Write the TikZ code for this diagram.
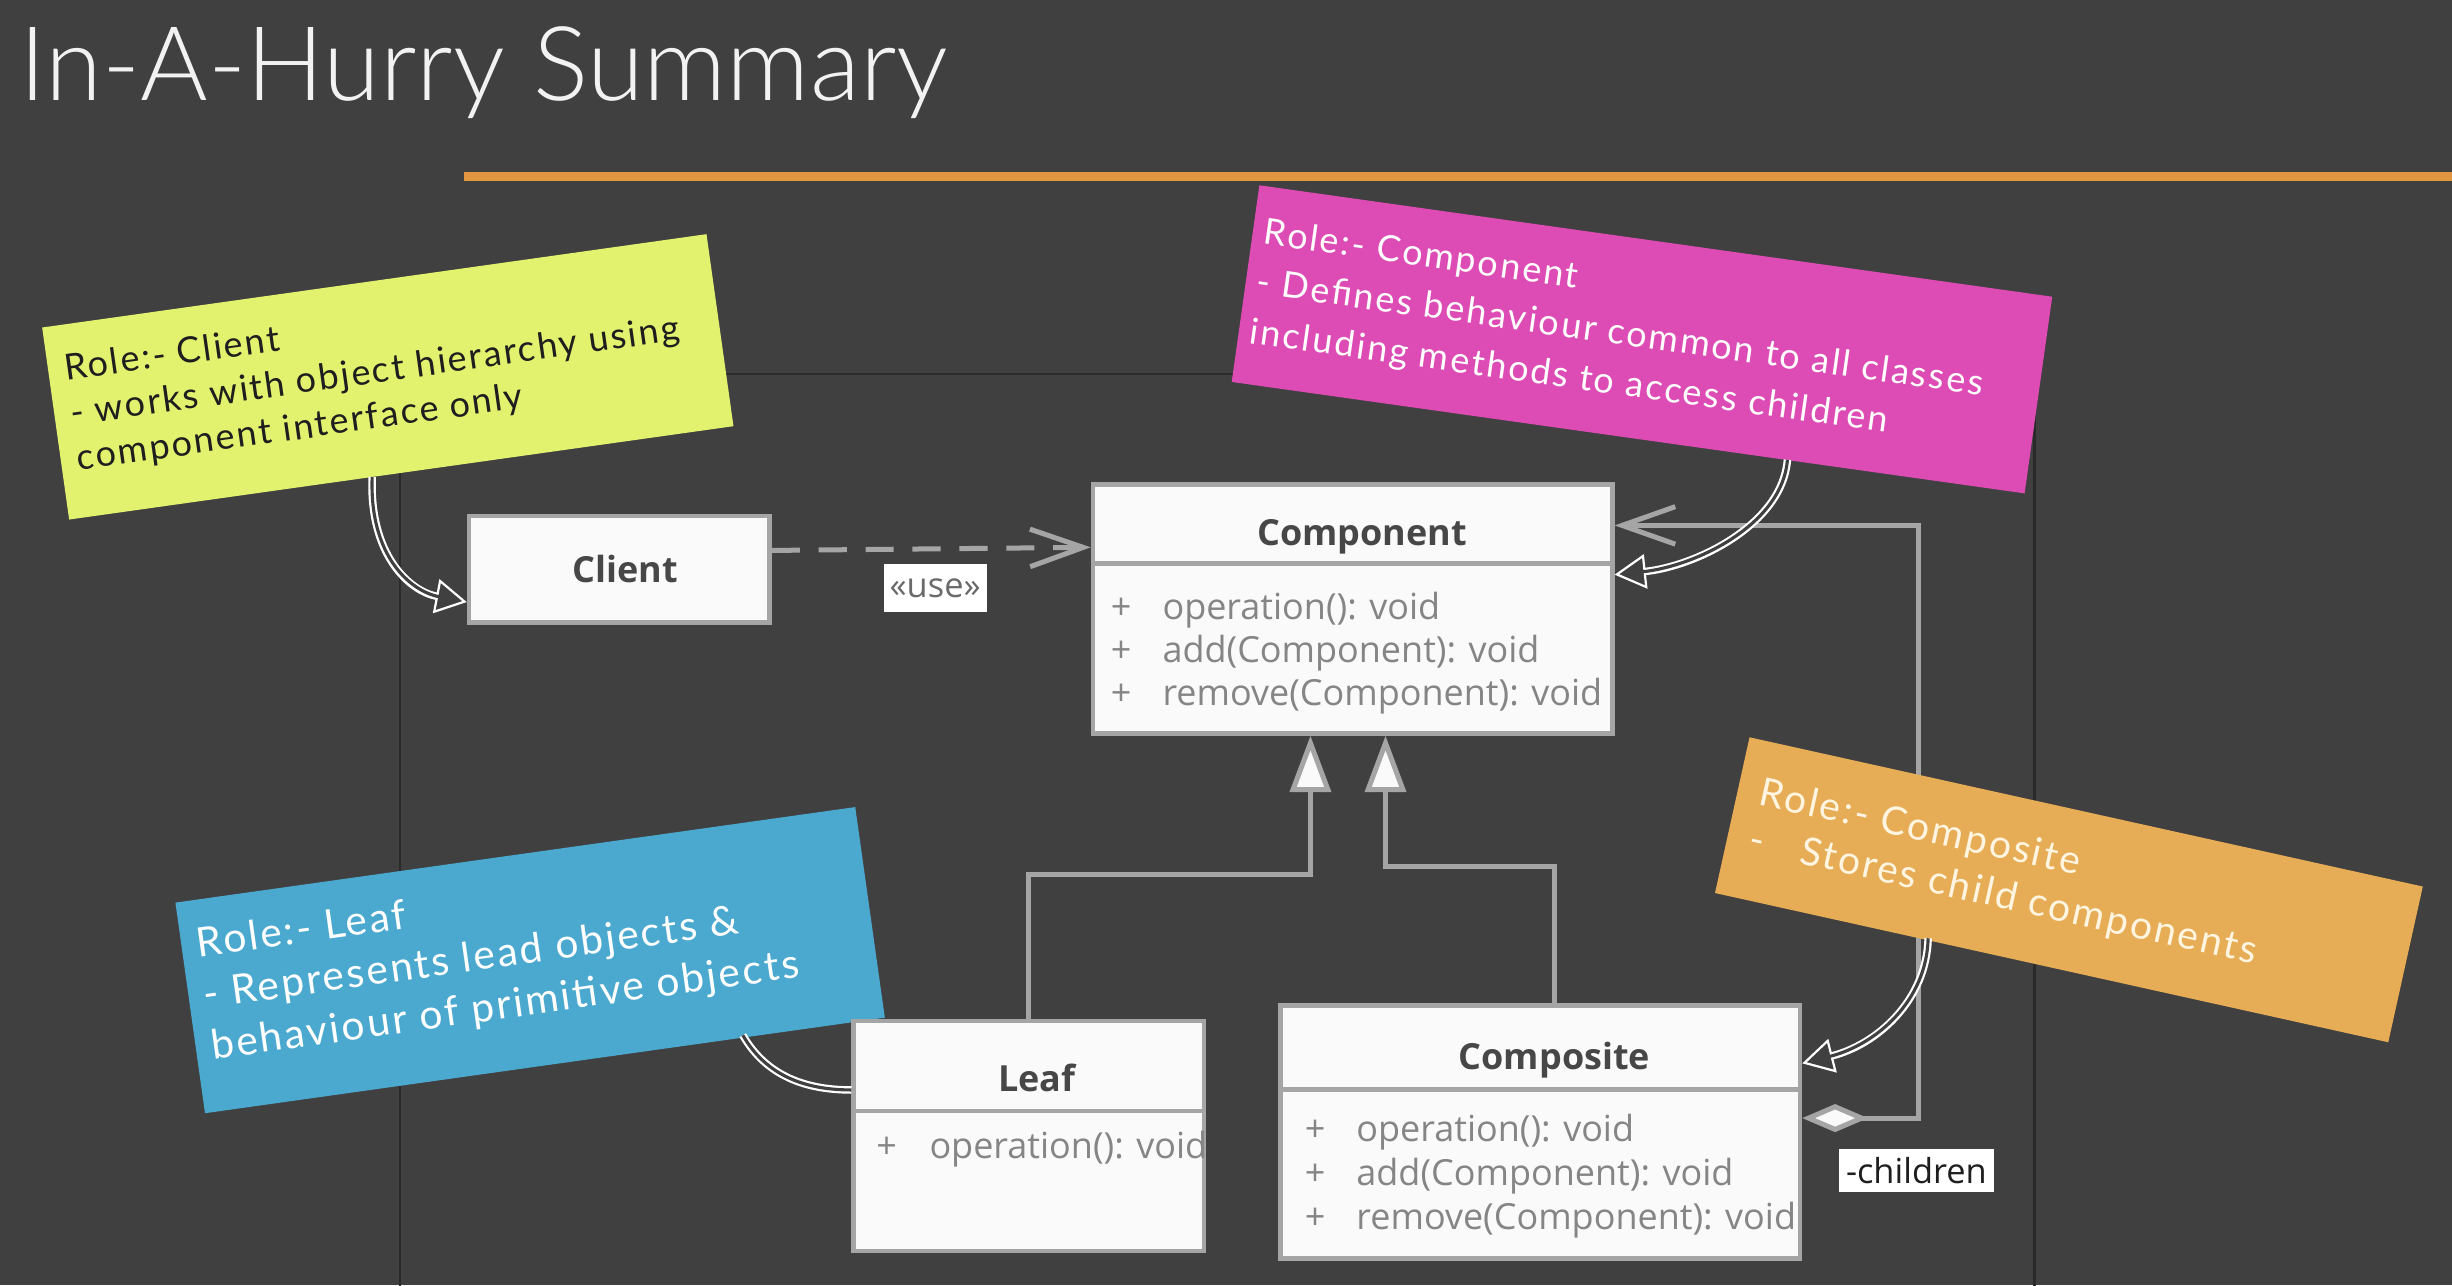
\documentclass[tikz,border=0pt]{standalone}
\usepackage{fontspec}
\setmainfont{Open Sans}
\IfFontExistsTF{Lato Light}{\newfontfamily\headfont{Lato Light}}{\newfontfamily\headfont{Lato}}
\newfontfamily\handfont[LetterSpace=6]{Lato}
\usetikzlibrary{arrows.meta}

\definecolor{bg}{HTML}{404040}
\definecolor{titlewhite}{HTML}{F2F2F2}
\definecolor{rulecol}{HTML}{E2963F}
\definecolor{framecol}{HTML}{2A2A2A}
\definecolor{umlgray}{HTML}{A5A5A5}
\definecolor{boxwhite}{HTML}{FAFAFA}
\definecolor{nametext}{HTML}{474747}
\definecolor{membertext}{HTML}{858585}
\definecolor{usegray}{HTML}{6A6A6A}
\definecolor{noteyellow}{HTML}{E2F26E}
\definecolor{notepink}{HTML}{DD4BB5}
\definecolor{noteblue}{HTML}{4BA9D0}
\definecolor{noteorange}{HTML}{E6AD56}
\definecolor{inkdark}{HTML}{1E1E1E}
\definecolor{inkcream}{HTML}{FFF5E1}

\begin{document}
\begin{tikzpicture}[x=0.5pt, y=-0.5pt,
  classbox/.style={rectangle, draw=umlgray, line width=1.5pt, fill=boxwhite, inner sep=0pt},
  divider/.style={draw=umlgray, line width=1.5pt},
  classname/.style={inner sep=0pt, text=nametext, font=\fontsize{11.5}{14}\selectfont\bfseries},
  member/.style={anchor=west, inner sep=0pt, text=membertext, font=\fontsize{11.5}{14}\selectfont},
  link/.style={draw=umlgray, line width=1.6pt},
  uses/.style={link, dash pattern=on 9pt off 6pt, -{Straight Barb[length=17pt, width=12pt]}},
  inherit/.style={link, -{Triangle[fill=boxwhite, length=18pt, width=13pt]}},
  aggreg/.style={link, {Diamond[fill=boxwhite, length=21pt, width=9pt]}-{Straight Barb[length=17pt, width=12pt]}},
  tag/.style={fill=white, inner sep=0pt, font=\fontsize{11}{13}\selectfont},
  note/.style={rectangle, inner sep=0pt, transform shape},
  notetext/.style={anchor=north west, inner sep=0pt, align=left, transform shape},
  callout/.style={draw=white, line width=2.4pt,
    -{Triangle[fill=bg, length=10pt, width=11pt, line width=0.7pt]},
    postaction={draw=bg, line width=1pt, shorten >=9pt, -}},
  calloutline/.style={draw=white, line width=2.4pt, postaction={draw=bg, line width=1pt}},
]
% canvas
\fill[bg] (0,0) rectangle (1568,822);
\useasboundingbox (0,0) rectangle (1568,822);
\clip (0,0) rectangle (1568,822);

% heading and rule
\node[anchor=base west, inner sep=0pt, text=titlewhite,
      font=\headfont\fontsize{33}{39}\selectfont] (title) at (12,64) {In-A-Hurry Summary};
\draw[rulecol, line width=3pt] (297,113) -- (1568,113);

% thin frame behind the diagram
\draw[framecol, line width=0.7pt] (256,239) rectangle (1301,900);

% class boxes (geometry only; text added later)
\node[classbox, minimum width=96pt,  minimum height=34pt]   (client) at (396,364) {};
\node[classbox, minimum width=166pt, minimum height=79.5pt] (comp)   at (865,389.5) {};
\node[classbox, minimum width=112pt, minimum height=73.5pt] (leaf)   at (658,726.5) {};
\node[classbox, minimum width=166pt, minimum height=81pt]   (compo)  at (985,724) {};

% relations
\draw[uses] ([yshift=6pt]client.east) -- ([yshift=19.75pt]comp.west);
\node[tag, text=usegray, minimum width=33pt, minimum height=15.5pt] (uselbl) at (598,376) {«use»};

\coordinate (jL) at (838,559);
\coordinate (jC) at (886,554);
\draw[inherit] (leaf.north) |- (jL) -- (jL |- comp.south);
\draw[inherit] ([xshift=4.5pt]compo.north) |- (jC) -- (jC |- comp.south);

\coordinate (aggS) at ([yshift=4.5pt]compo.east);
\coordinate (aggE) at ([yshift=26.75pt]comp.east);
\coordinate (aggX) at (1227,0);
\draw[aggreg] (aggS) -- (aggS -| aggX) -- (aggE -| aggX) -- (aggE);
\node[tag, text=inkdark, minimum width=49.5pt, minimum height=13.5pt] (childlbl) at (1225.5,748.5) {-children};

% sticky notes
\begin{scope}[shift={(248,241)}, rotate=8]
  \node[note, fill=noteyellow, minimum width=214.5pt, minimum height=62pt] (clientnote) at (0,0) {};
  \node[notetext, text=inkdark, font=\handfont\fontsize{11.5}{14.5}\selectfont] (clientnotetext) at (-204.5,-43.6)
    {Role:- Client\\- works with object hierarchy using\\component interface only};
\end{scope}

\begin{scope}[shift={(1050,217)}, rotate=-8]
  \node[note, fill=notepink, minimum width=256pt, minimum height=63.5pt] (compnote) at (0,0) {};
  \node[notetext, text=white, font=\handfont\fontsize{11.5}{16}\selectfont] (compnotetext) at (-249,-44)
    {Role:- Component\\- Defines behaviour common to all classes\\including methods to access children};
\end{scope}

\begin{scope}[shift={(339,614)}, rotate=8]
  \node[note, fill=noteblue, minimum width=219.5pt, minimum height=68pt] (leafnote) at (0,0) {};
  \node[notetext, text=white, font=\handfont\fontsize{13}{16.5}\selectfont] (leafnotetext) at (-210,-50.7)
    {Role:- Leaf\\- Represents lead objects \&\\behaviour of primitive objects};
\end{scope}

\begin{scope}[shift={(1323,569)}, rotate=-12.5]
  \node[note, fill=noteorange, minimum width=220.5pt, minimum height=51pt] (compositenote) at (0,0) {};
  \node[notetext, text=inkcream, font=\handfont\fontsize{12.5}{15.5}\selectfont] (compositenotetext) at (-206.5,-29)
    {Role:- Composite\\-\hspace{12pt}Stores child components};
\end{scope}

% boxes again above the notes, with compartments and text
\node[classbox, minimum width=96pt,  minimum height=34pt]   (clientF) at (client) {};
\node[classbox, minimum width=166pt, minimum height=79.5pt] (compF)   at (comp) {};
\node[classbox, minimum width=112pt, minimum height=73.5pt] (leafF)   at (leaf) {};
\node[classbox, minimum width=166pt, minimum height=81pt]   (compoF)  at (compo) {};

\draw[divider] ([yshift=-26pt]comp.north west) -- ([yshift=-26pt]comp.north east);
\draw[divider] ([yshift=-29.5pt]leaf.north west) -- ([yshift=-29.5pt]leaf.north east);
\draw[divider] ([yshift=-27.5pt]compo.north west) -- ([yshift=-27.5pt]compo.north east);

\node[classname] (clientname) at (400,364) {Client};
\node[classname] (compname)   at (871,343) {Component};
\node[classname] (leafname)   at (663,689) {Leaf};
\node[classname] (componame)  at (994,678) {Composite};

\node[member] (compm1) at (710,390) {\makebox[16.5pt][l]{+}operation(): void};
\node[member] (compm2) at (710,418) {\makebox[16.5pt][l]{+}add(Component): void};
\node[member] (compm3) at (710,445) {\makebox[16.5pt][l]{+}remove(Component): void};

\node[member] (compom1) at (834,724) {\makebox[16.5pt][l]{+}operation(): void};
\node[member] (compom2) at (834,752) {\makebox[16.5pt][l]{+}add(Component): void};
\node[member] (compom3) at (834,780) {\makebox[16.5pt][l]{+}remove(Component): void};

\begin{scope}
  \clip (leaf.south west) rectangle ([xshift=-0.75pt]leaf.north east);
  \node[member] (leafm1) at (560,735) {\makebox[17pt][l]{+}operation(): void};
\end{scope}

% callouts from the notes to their classes
\draw[callout] (238,305) .. controls (236,355) and (262,378) .. (client.west |- 0,385);
\draw[callout] (1143,294) .. controls (1140,335) and (1085,362) .. ([yshift=11pt]comp.east);
\draw[calloutline] (475,662) .. controls (490,688) and (515,697) .. ([yshift=14.75pt]leaf.west);
\draw[callout] (1233,600) .. controls (1232,640) and (1200,668) .. ([yshift=22pt]compo.east);
\end{tikzpicture}
\end{document}
